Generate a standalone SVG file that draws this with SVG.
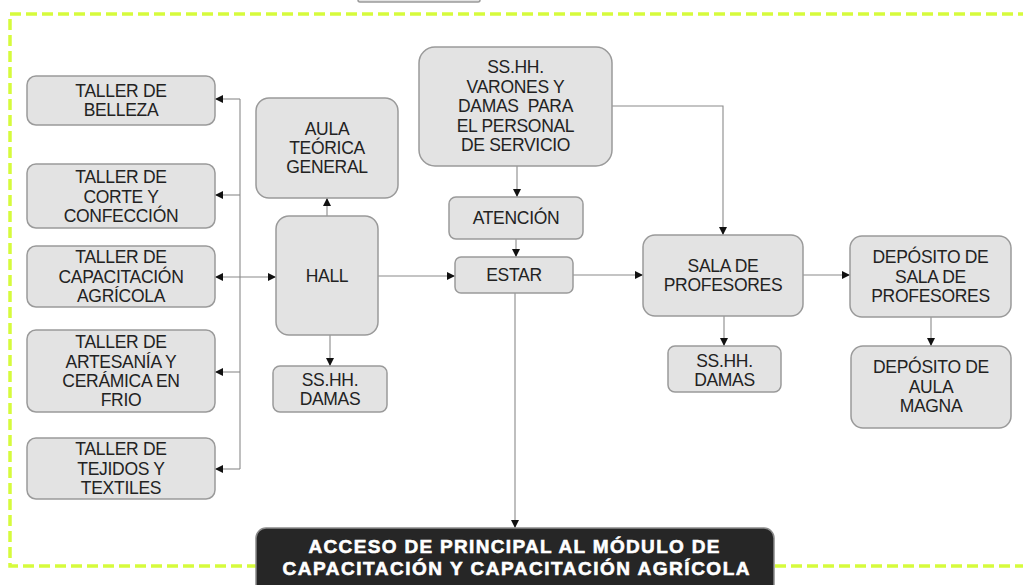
<svg xmlns="http://www.w3.org/2000/svg" width="1023" height="585" viewBox="0 0 1023 585">
<style>
.box{fill:#e3e3e3;stroke:#9a9a9a;stroke-width:1.5}
.t{font-family:"Liberation Sans",Arial,sans-serif;font-size:17.5px;fill:#222;text-anchor:middle;letter-spacing:-0.3px}
.c{fill:none;stroke:#8a8a8a;stroke-width:1.1}
.acc{fill:#262626;stroke:#8a8a8a;stroke-width:1.5}
.at{font-family:"Liberation Sans",Arial,sans-serif;font-size:19px;font-weight:bold;fill:#fff;stroke:#fff;stroke-width:0.6;text-anchor:middle}
</style>
<defs>
<marker id="ar" viewBox="0 0 10 10" refX="10" refY="5" markerWidth="8" markerHeight="8" markerUnits="userSpaceOnUse" orient="auto-start-reverse">
<path d="M0,0 L10,5 L0,10 z" fill="#111"/>
</marker>
</defs>
<rect width="1023" height="585" fill="#fff"/>
<rect x="10" y="14" width="1040" height="552" fill="none" stroke="#d6fb3c" stroke-width="3.5" stroke-dasharray="11 5"/>
<g id="top-cut"><rect class="box" x="358" y="-12" width="122" height="14" rx="2"/></g>
<g id="connectors">
<path class="c" d="M240,99 V469"/>
<path class="c" d="M240,99 H215" marker-end="url(#ar)"/>
<path class="c" d="M240,195 H215" marker-end="url(#ar)"/>
<path class="c" d="M215,277 H276" marker-start="url(#ar)" marker-end="url(#ar)"/>
<path class="c" d="M240,372 H215" marker-end="url(#ar)"/>
<path class="c" d="M240,469 H215" marker-end="url(#ar)"/>
<path class="c" d="M327,216 V198" marker-end="url(#ar)"/>
<path class="c" d="M330,335 V366" marker-end="url(#ar)"/>
<path class="c" d="M378,276 H455" marker-end="url(#ar)"/>
<path class="c" d="M517,166 V197" marker-end="url(#ar)"/>
<path class="c" d="M516,239 V257" marker-end="url(#ar)"/>
<path class="c" d="M573,275 H643" marker-end="url(#ar)"/>
<path class="c" d="M612,106 H723 V235" marker-end="url(#ar)"/>
<path class="c" d="M803,275 H850" marker-end="url(#ar)"/>
<path class="c" d="M931,317 V346" marker-end="url(#ar)"/>
<path class="c" d="M724,316 V346" marker-end="url(#ar)"/>
<path class="c" d="M515,293 V528" marker-end="url(#ar)"/>
</g>
<g id="belleza"><rect class="box" x="27" y="76" width="188" height="49" rx="9"/>
<text class="t" x="121" y="97">TALLER DE</text><text class="t" x="121" y="115.5">BELLEZA</text></g>
<g id="corte"><rect class="box" x="27" y="164" width="188" height="64" rx="9"/>
<text class="t" x="121" y="183">TALLER DE</text><text class="t" x="121" y="202.5">CORTE Y</text><text class="t" x="121" y="222">CONFECCIÓN</text></g>
<g id="capacitacion"><rect class="box" x="27" y="246" width="188" height="61" rx="9"/>
<text class="t" x="121" y="263">TALLER DE</text><text class="t" x="121" y="282.5">CAPACITACIÓN</text><text class="t" x="121" y="302">AGRÍCOLA</text></g>
<g id="artesania"><rect class="box" x="27" y="330" width="188" height="82" rx="9"/>
<text class="t" x="121" y="348">TALLER DE</text><text class="t" x="121" y="367.5">ARTESANÍA Y</text><text class="t" x="121" y="387">CERÁMICA EN</text><text class="t" x="121" y="406">FRIO</text></g>
<g id="tejidos"><rect class="box" x="27" y="438" width="188" height="61" rx="9"/>
<text class="t" x="121" y="455">TALLER DE</text><text class="t" x="121" y="474.5">TEJIDOS Y</text><text class="t" x="121" y="494">TEXTILES</text></g>
<g id="aula"><rect class="box" x="256" y="98" width="142" height="100" rx="13"/>
<text class="t" x="327" y="135">AULA</text><text class="t" x="327" y="154">TEÓRICA</text><text class="t" x="327" y="173">GENERAL</text></g>
<g id="hall"><rect class="box" x="276" y="216" width="102" height="119" rx="13"/>
<text class="t" x="327" y="282">HALL</text></g>
<g id="sshh-damas-1"><rect class="box" x="273" y="366" width="114" height="46" rx="7"/>
<text class="t" x="330" y="386">SS.HH.</text><text class="t" x="330" y="404.5">DAMAS</text></g>
<g id="varones"><rect class="box" x="419" y="47" width="193" height="119" rx="16"/>
<text class="t" x="515.5" y="73">SS.HH.</text><text class="t" x="515.5" y="93">VARONES Y</text><text class="t" x="515.5" y="112" style="white-space:pre">DAMAS  PARA</text><text class="t" x="515.5" y="131.5">EL PERSONAL</text><text class="t" x="515.5" y="151">DE SERVICIO</text></g>
<g id="atencion"><rect class="box" x="449" y="197" width="134" height="42" rx="7"/>
<text class="t" x="516" y="224">ATENCIÓN</text></g>
<g id="estar"><rect class="box" x="455" y="257" width="118" height="36" rx="6"/>
<text class="t" x="514" y="281">ESTAR</text></g>
<g id="sala"><rect class="box" x="643" y="235" width="160" height="81" rx="12"/>
<text class="t" x="723" y="272">SALA DE</text><text class="t" x="723" y="291">PROFESORES</text></g>
<g id="deposito-sala"><rect class="box" x="850" y="236" width="161" height="81" rx="12"/>
<text class="t" x="930.5" y="263">DEPÓSITO DE</text><text class="t" x="930.5" y="283">SALA DE</text><text class="t" x="930.5" y="301.5">PROFESORES</text></g>
<g id="deposito-aula"><rect class="box" x="851" y="346" width="160" height="82" rx="12"/>
<text class="t" x="931" y="373">DEPÓSITO DE</text><text class="t" x="931" y="392.5">AULA</text><text class="t" x="931" y="412">MAGNA</text></g>
<g id="sshh-damas-2"><rect class="box" x="668" y="346" width="113" height="46" rx="7"/>
<text class="t" x="724.5" y="367">SS.HH.</text><text class="t" x="724.5" y="385.5">DAMAS</text></g>
<g id="acceso"><rect class="acc" x="256" y="528" width="518" height="80" rx="10"/>
<text class="at" x="514" y="553" textLength="411" lengthAdjust="spacing">ACCESO DE PRINCIPAL AL MÓDULO DE</text>
<text class="at" x="516" y="575" textLength="467" lengthAdjust="spacing">CAPACITACIÓN Y CAPACITACIÓN AGRÍCOLA</text></g>
</svg>
